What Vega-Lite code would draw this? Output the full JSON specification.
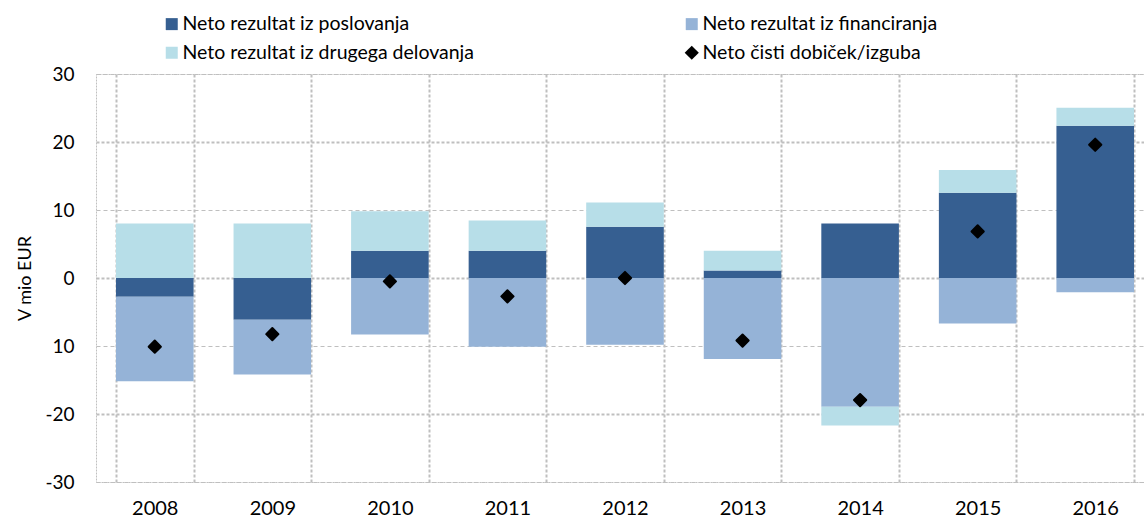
{
  "$schema": "https://vega.github.io/schema/vega-lite/v6.json",
  "width": 1058,
  "height": 408,
  "autosize": {"type": "none"},
  "padding": {"left": 96, "top": 74, "right": -10, "bottom": 36},
  "background": "white",
  "config": {
    "font": "Lato",
    "view": {"stroke": "#c0c0c0", "strokeDash": [2, 1]}
  },
  "datasets": {
    "parts": [
      {"year": "2008", "cat": "Neto rezultat iz poslovanja", "ord": 1, "value": -2.75},
      {"year": "2008", "cat": "Neto rezultat iz financiranja", "ord": 2, "value": -12.45},
      {"year": "2008", "cat": "Neto rezultat iz drugega delovanja", "ord": 3, "value": 8.0},
      {"year": "2009", "cat": "Neto rezultat iz poslovanja", "ord": 1, "value": -6.15},
      {"year": "2009", "cat": "Neto rezultat iz financiranja", "ord": 2, "value": -8.05},
      {"year": "2009", "cat": "Neto rezultat iz drugega delovanja", "ord": 3, "value": 8.0},
      {"year": "2010", "cat": "Neto rezultat iz poslovanja", "ord": 1, "value": 4.0},
      {"year": "2010", "cat": "Neto rezultat iz financiranja", "ord": 2, "value": -8.3},
      {"year": "2010", "cat": "Neto rezultat iz drugega delovanja", "ord": 3, "value": 5.8},
      {"year": "2011", "cat": "Neto rezultat iz poslovanja", "ord": 1, "value": 4.0},
      {"year": "2011", "cat": "Neto rezultat iz financiranja", "ord": 2, "value": -10.1},
      {"year": "2011", "cat": "Neto rezultat iz drugega delovanja", "ord": 3, "value": 4.45},
      {"year": "2012", "cat": "Neto rezultat iz poslovanja", "ord": 1, "value": 7.55},
      {"year": "2012", "cat": "Neto rezultat iz financiranja", "ord": 2, "value": -9.8},
      {"year": "2012", "cat": "Neto rezultat iz drugega delovanja", "ord": 3, "value": 3.55},
      {"year": "2013", "cat": "Neto rezultat iz poslovanja", "ord": 1, "value": 1.1},
      {"year": "2013", "cat": "Neto rezultat iz financiranja", "ord": 2, "value": -11.9},
      {"year": "2013", "cat": "Neto rezultat iz drugega delovanja", "ord": 3, "value": 2.9},
      {"year": "2014", "cat": "Neto rezultat iz poslovanja", "ord": 1, "value": 8.0},
      {"year": "2014", "cat": "Neto rezultat iz financiranja", "ord": 2, "value": -18.95},
      {"year": "2014", "cat": "Neto rezultat iz drugega delovanja", "ord": 3, "value": -2.75},
      {"year": "2015", "cat": "Neto rezultat iz poslovanja", "ord": 1, "value": 12.55},
      {"year": "2015", "cat": "Neto rezultat iz financiranja", "ord": 2, "value": -6.7},
      {"year": "2015", "cat": "Neto rezultat iz drugega delovanja", "ord": 3, "value": 3.35},
      {"year": "2016", "cat": "Neto rezultat iz poslovanja", "ord": 1, "value": 22.4},
      {"year": "2016", "cat": "Neto rezultat iz financiranja", "ord": 2, "value": -2.1},
      {"year": "2016", "cat": "Neto rezultat iz drugega delovanja", "ord": 3, "value": 2.65}
    ],
    "net": [
      {"year": "2008", "cat": "Neto čisti dobiček/izguba", "value": -10.1},
      {"year": "2009", "cat": "Neto čisti dobiček/izguba", "value": -8.25},
      {"year": "2010", "cat": "Neto čisti dobiček/izguba", "value": -0.5},
      {"year": "2011", "cat": "Neto čisti dobiček/izguba", "value": -2.7},
      {"year": "2012", "cat": "Neto čisti dobiček/izguba", "value": 0.0},
      {"year": "2013", "cat": "Neto čisti dobiček/izguba", "value": -9.2},
      {"year": "2014", "cat": "Neto čisti dobiček/izguba", "value": -17.95},
      {"year": "2015", "cat": "Neto čisti dobiček/izguba", "value": 6.85},
      {"year": "2016", "cat": "Neto čisti dobiček/izguba", "value": 19.6}
    ]
  },
  "layer": [
    {
      "data": {"name": "parts"},
      "mark": {"type": "bar"},
      "encoding": {
        "x": {
          "field": "year",
          "type": "nominal",
          "scale": {"paddingInner": 0.34, "paddingOuter": 0.17},
          "axis": {
            "title": null,
            "labelAngle": 0,
            "labelFontSize": 20,
            "labelColor": "#000000",
            "labelPadding": 16,
            "ticks": false,
            "tickSize": 0,
            "domain": false,
            "grid": true,
            "tickBand": "extent",
            "gridColor": "#bfbfbf",
            "gridWidth": 2,
            "gridDash": [3, 2]
          }
        },
        "y": {
          "field": "value",
          "type": "quantitative",
          "stack": "zero",
          "scale": {"domain": [-30, 30], "nice": false},
          "axis": {
            "title": "V mio EUR",
            "titleFontSize": 18,
            "titleFontWeight": "normal",
            "titleColor": "#000000",
            "titlePadding": 10,
            "values": [-30, -20, -10, 0, 10, 20, 30],
            "labelExpr": "datum.value == -10 ? '10' : '' + datum.value",
            "labelFontSize": 19,
            "labelColor": "#000000",
            "labelPadding": 22,
            "ticks": false,
            "tickSize": 0,
            "domain": false,
            "grid": true,
            "gridColor": "#bfbfbf",
            "gridWidth": {"condition": {"test": "datum.value % 20 === 0", "value": 2}, "value": 1},
            "gridDash": {"condition": {"test": "datum.value % 20 === 0", "value": [3, 2]}, "value": [4, 3]}
          }
        },
        "color": {
          "field": "cat",
          "type": "nominal",
          "scale": {
            "domain": ["Neto rezultat iz poslovanja", "Neto rezultat iz drugega delovanja", "Neto rezultat iz financiranja", "Neto čisti dobiček/izguba"],
            "range": ["#365F91", "#B7DEE8", "#95B3D7", "#000000"]
          },
          "legend": {
            "orient": "none",
            "legendX": 66,
            "legendY": -60,
            "columns": 2,
            "columnPadding": 208,
            "rowPadding": 8,
            "title": null,
            "symbolType": "square",
            "symbolSize": 144,
            "symbolStrokeWidth": 0,
            "labelFontSize": 19.5,
            "labelColor": "#000000",
            "labelOffset": 1,
            "labelLimit": 600,
            "encode": {
              "symbols": {
                "update": {
                  "shape": {"signal": "datum.value === 'Neto čisti dobiček/izguba' ? 'diamond' : 'square'"},
                  "size": {"signal": "datum.value === 'Neto čisti dobiček/izguba' ? 200 : 144"}
                }
              }
            }
          }
        },
        "order": {"field": "ord", "type": "quantitative"}
      }
    },
    {
      "data": {"name": "net"},
      "mark": {"type": "point", "shape": "diamond", "filled": true, "size": 150, "opacity": 1, "stroke": "#000000", "strokeWidth": 2, "strokeJoin": "round"},
      "encoding": {
        "x": {"field": "year", "type": "nominal"},
        "y": {"field": "value", "type": "quantitative", "stack": null},
        "color": {"field": "cat", "type": "nominal"}
      }
    }
  ]
}
